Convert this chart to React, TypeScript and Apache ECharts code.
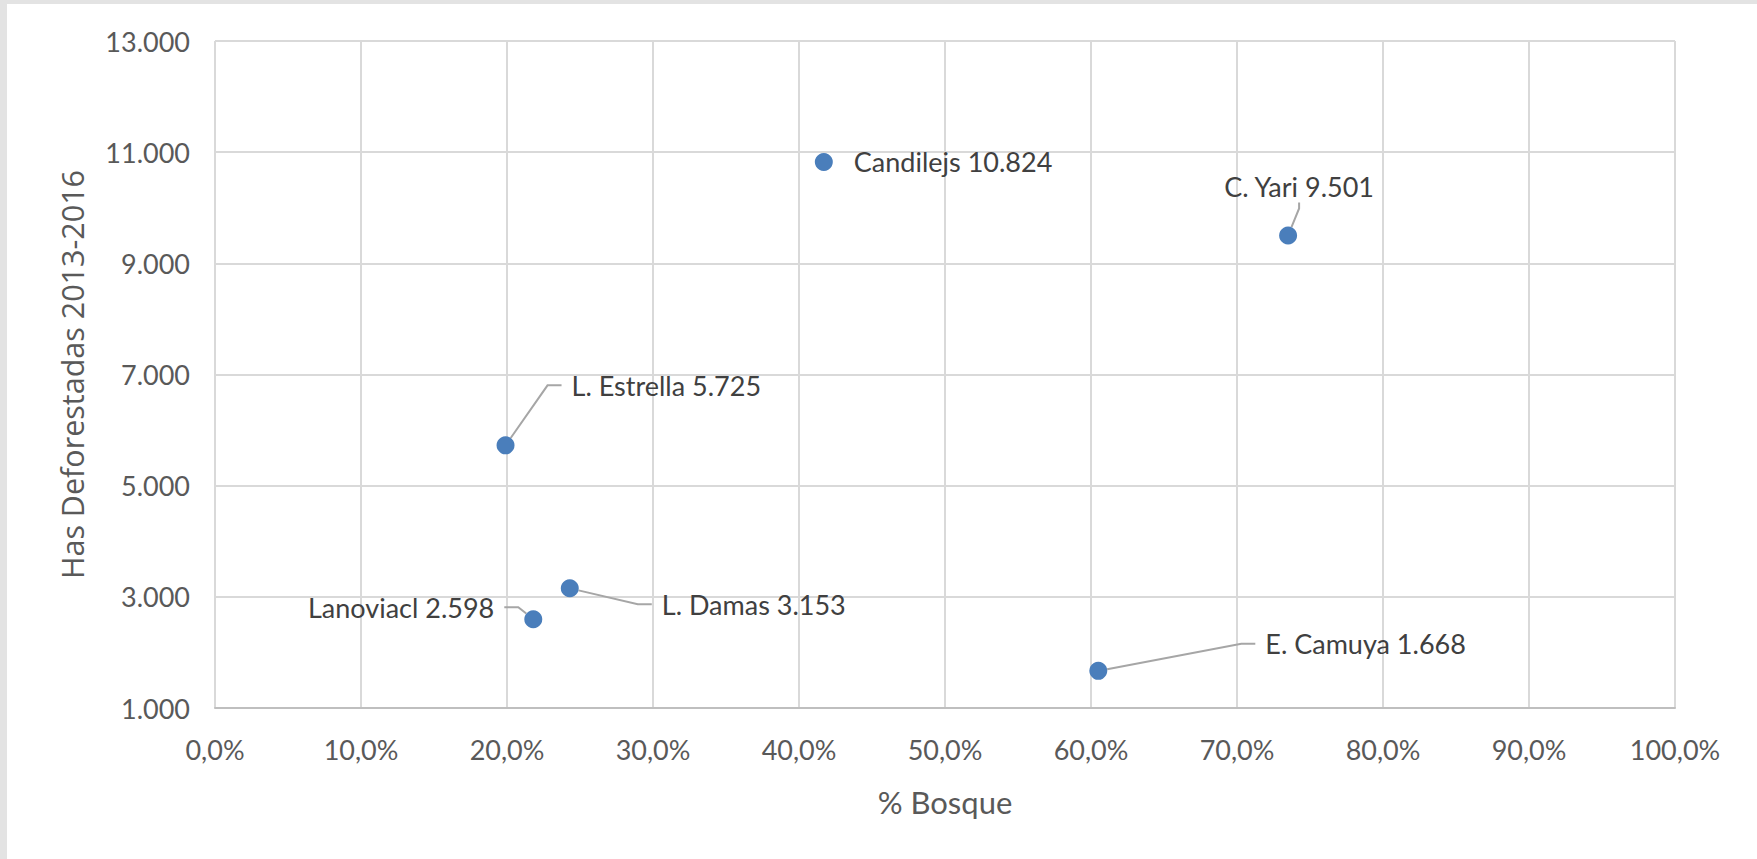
import React, { useEffect, useRef } from "react";
import * as echarts from "echarts";

// ---- Data ----
const regionNames = ["Candilejs", "C. Yari", "L. Estrella", "L. Damas", "Lanoviacl", "E. Camuya"];
const bosquePct = [41.7, 73.5, 19.9, 24.3, 21.8, 60.5];
const hasDeforestadas = [10824, 9501, 5725, 3153, 2598, 1668];

// ---- Label layout (relative offsets, not data) ----
const labelPlacement = ["right", "top", "right", "right", "left", "right"];
const labelOffsets: number[][] = [
  [6, 0],
  [11, -19],
  [42, -60],
  [68, 16],
  [-15, -12],
  [143, -27],
];
const showLeader = [false, true, true, true, true, true];

const fmtThousands = (v: number) => String(Math.round(v)).replace(/\B(?=(\d{3})+(?!\d))/g, ".");
const fmtPct = (v: number) => `${v.toFixed(1).replace(".", ",")}%`;

const LABEL_FONT = "Lato, 'Open Sans', sans-serif";

export default function App() {
  const ref = useRef<HTMLDivElement>(null);

  useEffect(() => {
    if (!ref.current) return;
    const chart = echarts.init(ref.current, undefined, { renderer: "svg" });

    const data = regionNames.map((name, i) => ({
      name,
      value: [bosquePct[i], hasDeforestadas[i]],
      label: { position: labelPlacement[i] },
      labelLine: { show: showLeader[i], length2: i === 1 ? 6 : 14 },
    }));

    chart.setOption({
      animation: false,
      backgroundColor: "transparent",
      grid: { left: 215, right: 82, top: 41, bottom: 151, containLabel: false },
      xAxis: {
        type: "value",
        min: 0,
        max: 100,
        interval: 10,
        name: "% Bosque",
        nameLocation: "middle",
        nameGap: 78,
        nameTextStyle: { color: "#595959", fontSize: 31, fontFamily: LABEL_FONT },
        axisLine: { show: true, lineStyle: { color: "#bfbfbf", width: 2 } },
        axisTick: { show: false },
        axisLabel: {
          color: "#595959",
          fontSize: 27,
          fontFamily: LABEL_FONT,
          margin: 28,
          formatter: (v: number) => fmtPct(v),
        },
        splitLine: { show: true, lineStyle: { color: "#d9d9d9", width: 2 } },
      },
      yAxis: {
        type: "value",
        min: 1000,
        max: 13000,
        interval: 2000,
        name: "Has Deforestadas 2013-2016",
        nameLocation: "middle",
        nameRotate: 90,
        nameGap: 128,
        nameTextStyle: { color: "#595959", fontSize: 30.5, fontFamily: "'Open Sans', sans-serif" },
        axisLine: { show: false },
        axisTick: { show: false },
        axisLabel: {
          color: "#595959",
          fontSize: 27,
          fontFamily: LABEL_FONT,
          margin: 25,
          formatter: (v: number) => fmtThousands(v),
        },
        splitLine: { show: true, lineStyle: { color: "#d9d9d9", width: 2 } },
      },
      series: [
        {
          type: "scatter",
          symbol: "circle",
          symbolSize: 18,
          itemStyle: { color: "#4a7ebb", opacity: 1 },
          data,
          label: {
            show: true,
            distance: 5,
            color: "#404040",
            fontSize: 27,
            fontFamily: LABEL_FONT,
            lineHeight: 32,
            padding: [0, 10],
            formatter: (p: any) => `${p.name} ${fmtThousands(p.value[1])}`,
          },
          labelLine: {
            show: true,
            length2: 14,
            lineStyle: { color: "#a6a6a6", width: 2 },
          },
          labelLayout: (p: any) => ({
            dx: labelOffsets[p.dataIndex][0],
            dy: labelOffsets[p.dataIndex][1],
          }),
        },
      ],
    });

    return () => chart.dispose();
  }, []);

  return (
    <div
      style={{
        position: "fixed",
        left: 0,
        top: 0,
        width: 1757,
        height: 859,
        background: "#ffffff",
        boxSizing: "border-box",
        borderTop: "4px solid #e3e3e3",
        borderLeft: "7px solid #e3e3e3",
      }}
    >
      <div ref={ref} style={{ position: "absolute", left: -7, top: -4, width: 1757, height: 859 }} />
    </div>
  );
}
